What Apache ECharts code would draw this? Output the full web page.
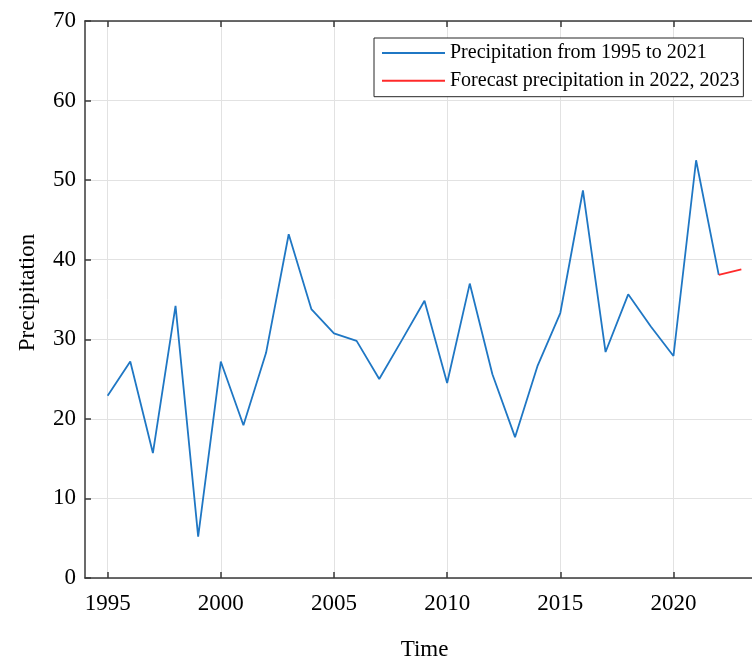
<!DOCTYPE html>
<html>
<head>
<meta charset="utf-8">
<script src="https://cdn.jsdelivr.net/npm/echarts@6/dist/echarts.min.js"></script>
<style>
html,body{margin:0;padding:0;background:#fff;}
#chart{width:752px;height:659px;}
</style>
</head>
<body>
<div id="chart"></div>
<script>
const years = [1995,1996,1997,1998,1999,2000,2001,2002,2003,2004,2005,2006,2007,2008,2009,2010,2011,2012,2013,2014,2015,2016,2017,2018,2019,2020,2021,2022];
const precipitation = [22.9,27.2,15.7,34.2,5.2,27.2,19.2,28.3,43.2,33.8,30.75,29.8,25.0,29.9,34.85,24.5,37.0,25.6,17.7,26.7,33.3,48.7,28.4,35.65,31.6,27.9,52.5,38.1];
const forecastYears = [2022,2023];
const forecastValues = [38.1,38.8];
const xTicks = [1995,2000,2005,2010,2015,2020];
const seriesNames = ['Precipitation from 1995 to 2021','Forecast precipitation in 2022, 2023'];

const FONT = '"Liberation Serif","Times New Roman",serif';
const AXIS = '#3a3a3a';
const GRID = '#e2e2e2';

const chart = echarts.init(document.getElementById('chart'));
chart.setOption({
  animation:false,
  backgroundColor:'#fff',
  grid:{left:85,top:21,right:-12,bottom:81,containLabel:false,outerBoundsMode:'none'},
  legend:{
    left:374, top:38, orient:'vertical',
    backgroundColor:'#fff', borderColor:'#262626', borderWidth:1, borderRadius:0,
    padding:[5,4,6,7], itemWidth:63, itemHeight:14, itemGap:7.7,
    itemStyle:{opacity:0},
    textStyle:{fontFamily:FONT,fontSize:20,color:'#000',lineHeight:20},
    data:seriesNames
  },
  xAxis:[{
    type:'value', min:1994, max:2024,
    name:'Time', nameLocation:'middle', nameGap:60,
    nameTextStyle:{fontFamily:FONT,fontSize:23,color:'#000'},
    axisLine:{show:true,onZero:false,lineStyle:{color:AXIS,width:1.5}},
    axisTick:{show:true,inside:true,length:6,customValues:xTicks,lineStyle:{color:AXIS,width:1.5}},
    axisLabel:{customValues:xTicks,formatter:v=>String(v),fontFamily:FONT,fontSize:23,color:'#000',margin:14},
    splitLine:{show:true,lineStyle:{color:GRID,width:1}}
  },{
    type:'value', min:1994, max:2024, position:'top',
    axisLine:{show:true,onZero:false,lineStyle:{color:AXIS,width:1.5}},
    axisTick:{show:true,inside:true,length:6,customValues:xTicks,lineStyle:{color:AXIS,width:1.5}},
    axisLabel:{show:false},
    splitLine:{show:false}
  }],
  yAxis:{
    type:'value', min:0, max:70, interval:10,
    axisLine:{show:true,onZero:false,lineStyle:{color:AXIS,width:1.5}},
    axisTick:{show:true,inside:true,length:6,lineStyle:{color:AXIS,width:1.5}},
    axisLabel:{fontFamily:FONT,fontSize:23,color:'#000',margin:9},
    splitLine:{show:true,lineStyle:{color:GRID,width:1}}
  },
  graphic:[{
    type:'text', x:28, y:292.5, rotation:Math.PI/2,
    style:{text:'Precipitation',fontFamily:FONT,fontSize:23,fill:'#000',align:'center',verticalAlign:'middle'}
  }],
  series:[{
    name:seriesNames[0], type:'line', symbol:'none',
    data:years.map((y,i)=>[y,precipitation[i]]),
    lineStyle:{color:'#1f77c4',width:1.8}, itemStyle:{color:'#1f77c4'}
  },{
    name:seriesNames[1], type:'line', symbol:'none',
    data:forecastYears.map((y,i)=>[y,forecastValues[i]]),
    lineStyle:{color:'#ff2a2a',width:1.8}, itemStyle:{color:'#ff2a2a'}
  }]
});
</script>
</body>
</html>
